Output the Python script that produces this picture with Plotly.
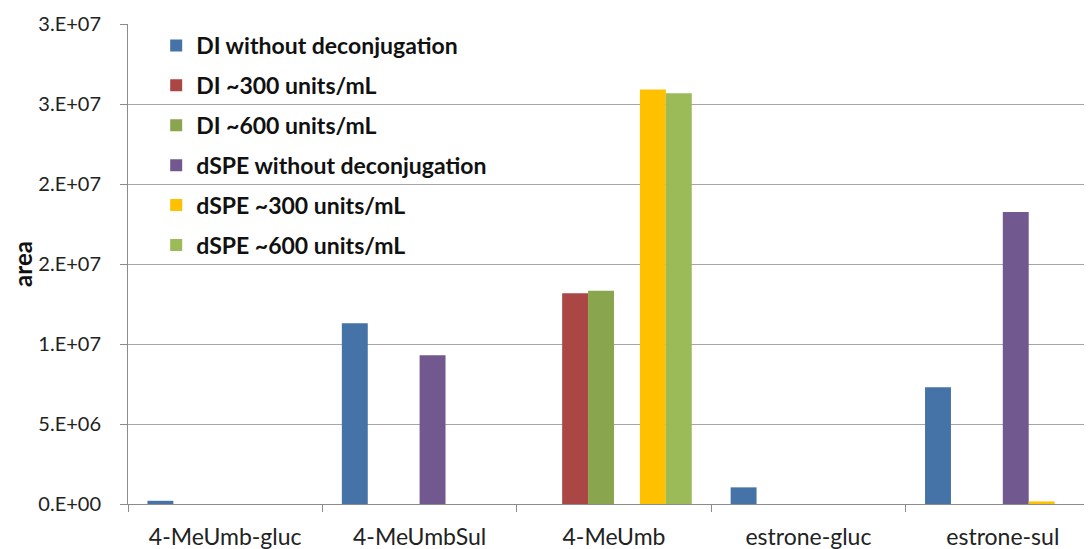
import plotly.graph_objects as go

categories = ["4-MeUmb-gluc", "4-MeUmbSul", "4-MeUmb", "estrone-gluc", "estrone-sul"]
series_names = ["DI without deconjugation", "DI ~300 units/mL", "DI ~600 units/mL",
                "dSPE without deconjugation", "dSPE ~300 units/mL", "dSPE ~600 units/mL"]
di_without = [2.0e5, 11.3e6, 0, 1.04e6, 7.3e6]
di_300 = [0, 0, 13.17e6, 0, 0]
di_600 = [0, 0, 13.33e6, 0, 0]
dspe_without = [0, 9.3e6, 0, 0, 18.25e6]
dspe_300 = [0, 0, 25.9e6, 0, 1.6e5]
dspe_600 = [0, 0, 25.67e6, 0, 0]
series_values = [di_without, di_300, di_600, dspe_without, dspe_300, dspe_600]
colors = ["#4572A7", "#AA4643", "#89A54E", "#71588F", "#FFC000", "#9BBB59"]

tick_vals = [0, 5e6, 1e7, 1.5e7, 2e7, 2.5e7, 3e7]
tick_text = ["0.E+00", "5.E+06", "1.E+07", "2.E+07", "2.E+07", "3.E+07", "3.E+07"]

FONT = "Lato, 'Open Sans', sans-serif"

fig = go.Figure()
for i, (name, vals, c) in enumerate(zip(series_names, series_values, colors)):
    fig.add_trace(go.Bar(x=categories, y=vals, name=name, marker_color=c,
                         marker_line_width=0, legendgroup=f"g{i}"))

fig.update_layout(
    width=1092, height=549,
    margin=dict(l=120, r=0, t=16, b=53),
    paper_bgcolor="white", plot_bgcolor="white",
    barmode="group", bargap=0.2, bargroupgap=0,
    font=dict(family=FONT, size=20, color="#222222"),
    showlegend=True,
    legend=dict(x=0.029, y=1.0, xanchor="left", yanchor="top",
                bgcolor="rgba(0,0,0,0)", traceorder="grouped", tracegroupgap=7,
                font=dict(family=FONT, size=23, color="#111111", weight="bold"),
                itemwidth=30),
    xaxis=dict(range=[-0.5, 4.5], showline=True, linecolor="#8c8c8c", linewidth=1,
               ticks="outside", tickson="boundaries", ticklen=7, tickcolor="#8c8c8c",
               ticklabelstandoff=12,
               showgrid=False, tickfont=dict(size=23, color="#222222")),
    yaxis=dict(range=[0, 3e7], tickvals=tick_vals, ticktext=tick_text,
               showline=True, linecolor="#8c8c8c", linewidth=1,
               ticks="outside", ticklen=7, tickcolor="#8c8c8c",
               ticklabelstandoff=15,
               showgrid=True, gridcolor="#a6a6a6", gridwidth=1,
               zeroline=False, tickfont=dict(size=20, color="#222222"),
               title=dict(text="<b>area</b>", font=dict(size=24, color="#111111"), standoff=14)),
)

fig.write_html("out.html")
